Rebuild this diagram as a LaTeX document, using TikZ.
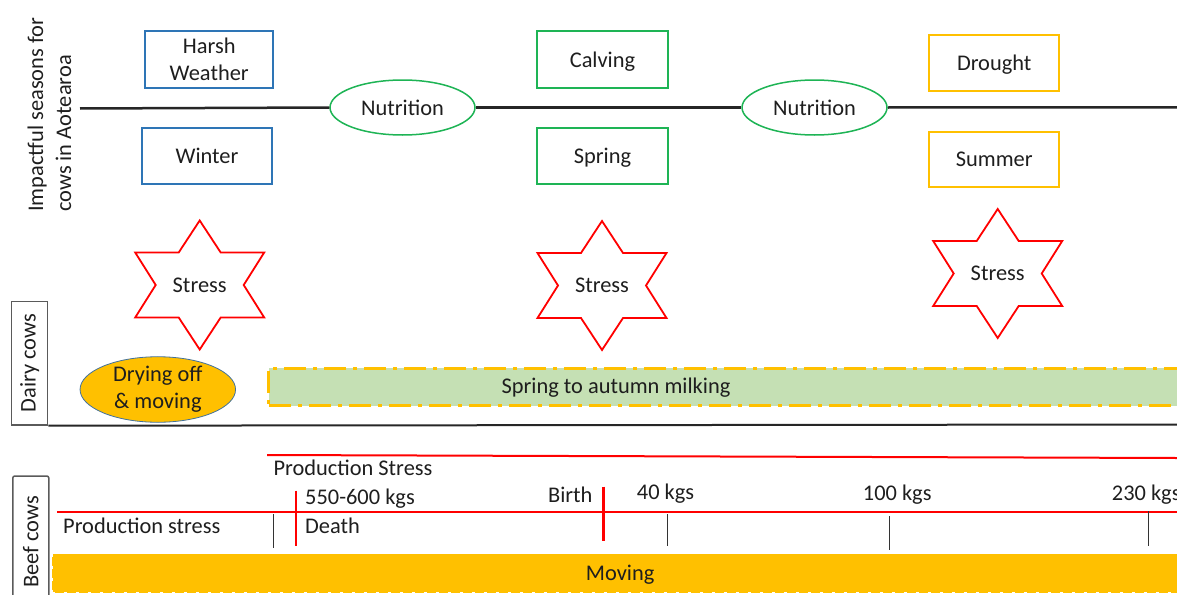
\documentclass[tikz,border=0pt]{standalone}
\usepackage{fontspec}
\setmainfont{Carlito}
\usetikzlibrary{shapes.geometric}

\definecolor{seasonblue}{RGB}{46,117,182}
\definecolor{seasongreen}{RGB}{30,180,85}
\definecolor{seasonyellow}{RGB}{255,192,0}
\definecolor{milkgreen}{RGB}{197,224,180}
\definecolor{stressred}{RGB}{255,0,0}
\definecolor{ovalborder}{RGB}{65,113,156}
\definecolor{inkgray}{RGB}{30,30,30}
\definecolor{framegray}{RGB}{90,90,90}

% six-pointed star drawn round a named text node
\newcommand\stressstar[1]{%
  \draw[starline]
    ([shift={(0,-64.5)}]#1.center) -- ([shift={(21,-32.5)}]#1.center)
    -- ([shift={(64.5,-32.5)}]#1.center) -- ([shift={(44,0)}]#1.center)
    -- ([shift={(64.5,32.5)}]#1.center) -- ([shift={(21,32.5)}]#1.center)
    -- ([shift={(0,64.5)}]#1.center) -- ([shift={(-21,32.5)}]#1.center)
    -- ([shift={(-64.5,32.5)}]#1.center) -- ([shift={(-44,0)}]#1.center)
    -- ([shift={(-64.5,-32.5)}]#1.center) -- ([shift={(-21,-32.5)}]#1.center)
    -- cycle;}

\begin{document}
\begin{tikzpicture}[x=1pt,y=-1pt,
  every node/.style={font=\fontsize{22.4}{27}\selectfont, text=inkgray, inner sep=0pt},
  seasonbox/.style={draw, line width=2, align=center},
  oneline/.style={text height=20, text depth=5},
  bluebox/.style={seasonbox, draw=seasonblue},
  greenbox/.style={seasonbox, draw=seasongreen},
  yellowbox/.style={seasonbox, draw=seasonyellow},
  nutrition/.style={ellipse, draw=seasongreen, line width=1.5, fill=white,
    minimum width=145, minimum height=55},
  timeline/.style={line width=2.5, black!85},
  starline/.style={draw=stressred, line width=1.8, line join=miter},
  sidebox/.style={draw=framegray, line width=1.5, rotate=90, minimum height=36},
  redline/.style={stressred, line width=2},
  redtick/.style={stressred, line width=2.5},
  blacktick/.style={black!80, line width=1.5},
  lefttext/.style={anchor=base west},
]
\useasboundingbox (0,0) rectangle (1177,594);
\clip (0,0) rectangle (1177,594);

% ---------- seasons ----------
\node[rotate=90, lefttext] (seasA) at (43,212) {Impactful seasons for};
\node[rotate=90, lefttext] (seasB) at (71,212) {cows in Aotearoa};

\coordinate (tlstart) at (80,108.5);
\coordinate (tlend) at (1177,107.3);
\node[nutrition] (nut1) at (402.5,107.5) {Nutrition};
\node[nutrition] (nut2) at (814.5,107.5) {Nutrition};
\draw[timeline] (tlstart) -- (nut1.west);
\draw[timeline] (nut1.east) -- (nut2.west);
\draw[timeline] (nut2.east) -- (tlend);

\node[bluebox, minimum width=128, minimum height=57.5] (harsh) at (209.2,59.5) {Harsh\\Weather};
\node[bluebox, oneline, minimum width=130.5, minimum height=56] (winter) at (207,156.3) {Winter};
\node[greenbox, oneline, minimum width=130.4, minimum height=57.5] (calving) at (602.5,59.5) {Calving};
\node[greenbox, oneline, minimum width=130.4, minimum height=56] (spring) at (602.5,156.3) {Spring};
\node[yellowbox, oneline, minimum width=129.7, minimum height=56] (drought) at (994.2,63) {Drought};
\node[yellowbox, oneline, minimum width=129.7, minimum height=55] (summer) at (994.2,159.2) {Summer};

% ---------- stress stars ----------
\node (st1) at (199.7,285) {Stress};
\node (st2) at (602,285.5) {Stress};
\node (st3) at (997.7,273.5) {Stress};
\stressstar{st1}
\stressstar{st2}
\stressstar{st3}

% ---------- dairy cows ----------
\node[sidebox, minimum width=123.3] (dairy) at (29.7,363.3) {Dairy cows};
\draw[line width=2, black!85] (dairy.south west) -- (1177,424.5);

\node[ellipse, fill=seasonyellow, draw=ovalborder, line width=0.8,
  minimum width=155.5, minimum height=49, align=center] (dry) at (157.8,389.5)
  {Drying off\\\& moving};

\node[fill=milkgreen, draw=seasonyellow, line width=3,
  dash pattern=on 22pt off 7pt on 4pt off 7pt,
  minimum width=940, minimum height=37.5, anchor=north west] (milk) at (267.3,366.7) {};
\node (milktxt) at (616,387.5) {Spring to autumn milking};

% ---------- beef cows ----------
\coordinate (psA) at (267,455);
\coordinate (psB) at (1177,458);
\draw[redline] (psA) -- (psB);
\node[lefttext] (pstress) at (273.3,475) {Production Stress};

\node[sidebox, minimum width=132, rounded corners=2] (beef) at (30.8,542) {Beef cows};

\coordinate (bA) at (57,511.5);
\coordinate (bB) at (1177,511.5);
\draw[redline] (bA) -- (bB);

\coordinate (d1) at (296,490.7);  \coordinate (d2) at (296,546);
\coordinate (b1) at (603.3,486.7); \coordinate (b2) at (603.3,540.7);
\draw[redtick] (d1) -- (d2);
\draw[redtick] (b1) -- (b2);

\coordinate (k0a) at (273.3,514); \coordinate (k0b) at (273.3,548.3);
\coordinate (k1a) at (667.3,514); \coordinate (k1b) at (667.3,546);
\coordinate (k2a) at (889.3,516); \coordinate (k2b) at (889.3,550);
\coordinate (k3a) at (1148.3,511); \coordinate (k3b) at (1148.3,546);
\draw[blacktick] (k0a) -- (k0b);
\draw[blacktick] (k1a) -- (k1b);
\draw[blacktick] (k2a) -- (k2b);
\draw[blacktick] (k3a) -- (k3b);

\node[lefttext] (wt1) at (305,504) {550-600 kgs};
\node[lefttext] (death) at (305,533.3) {Death};
\node[anchor=base east] (birth) at (592.7,502.3) {Birth};
\node[lefttext] (wt2) at (636.7,499.5) {40 kgs};
\node[lefttext] (wt3) at (862.7,500) {100 kgs};
\node[lefttext] (wt4) at (1111.7,500) {230 kgs};
\node[lefttext] (prod) at (63,533.3) {Production stress};

\node[fill=seasonyellow, oneline, minimum width=1136, minimum height=39, anchor=north west]
  (moving) at (52,553.5) {Moving};
\draw[white, line width=1.2, dash pattern=on 3pt off 9pt]
  (moving.north west) -- (moving.north east)
  (moving.south west) -- (moving.south east)
  (moving.north west) -- (moving.south west);
\end{tikzpicture}
\end{document}
